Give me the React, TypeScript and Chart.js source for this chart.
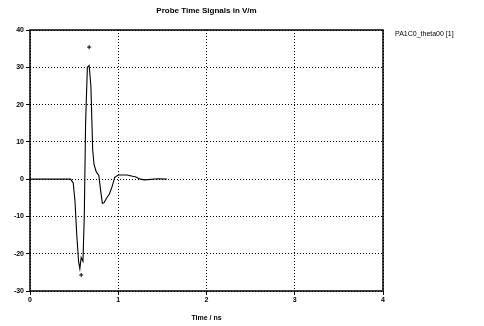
import React, { useEffect, useRef } from "react";
import { Chart, registerables } from "chart.js";

Chart.register(...registerables);

const TITLE = "Probe Time Signals in V/m";
const X_LABEL = "Time / ns";
const SERIES_NAME = "PA1C0_theta00 [1]";

const timeNs = [0, 0.2, 0.46, 0.49, 0.51, 0.53, 0.55, 0.565, 0.58, 0.6, 0.615, 0.63, 0.65, 0.67, 0.69, 0.71, 0.725, 0.75, 0.78, 0.8, 0.82, 0.84, 0.87, 0.9, 0.93, 0.96, 1.0, 1.1, 1.2, 1.25, 1.3, 1.45, 1.55];
const fieldVm = [0, 0, 0, -1, -6, -15, -22, -24, -21, -22, -10, 15, 30, 30.5, 25, 8, 4, 2, 1, -3, -6.5, -6.3, -5, -4, -2, 0.5, 1.1, 1.1, 0.6, 0, -0.2, 0.1, 0];

const markerTimes = [0.58, 0.67];
const markerValues = [-25.7, 35.4];

const xTicks = [0, 1, 2, 3, 4];
const yTicks = [-30, -20, -10, 0, 10, 20, 30, 40];

const FONT = '"Liberation Sans", Arial, sans-serif';

const framePlugin = {
  id: "frameAndLegend",
  afterDraw(chart: any) {
    const { ctx, chartArea } = chart;
    const { left, top, right, bottom } = chartArea;
    ctx.save();
    ctx.strokeStyle = "#000";
    ctx.lineWidth = 1.5;
    ctx.setLineDash([]);
    ctx.strokeRect(left, top, right - left, bottom - top);
    ctx.font = `7px ${FONT}`;
    ctx.fillStyle = "#000";
    ctx.textBaseline = "middle";
    ctx.textAlign = "left";
    ctx.fillText(SERIES_NAME, right + 12, top + 4);
    ctx.restore();
  },
};

export default function App() {
  const ref = useRef<HTMLCanvasElement | null>(null);

  useEffect(() => {
    if (!ref.current) return;
    const chart = new Chart(ref.current, {
      type: "line",
      data: {
        datasets: [
          {
            label: SERIES_NAME,
            data: timeNs.map((t, i) => ({ x: t, y: fieldVm[i] })),
            borderColor: "#000",
            borderWidth: 1.1,
            pointRadius: 0,
            tension: 0,
            fill: false,
          },
          {
            label: "markers",
            data: markerTimes.map((t, i) => ({ x: t, y: markerValues[i] })),
            showLine: false,
            borderColor: "#000",
            backgroundColor: "#000",
            pointStyle: "cross",
            pointRadius: 2,
            pointBorderWidth: 1,
          },
        ],
      },
      options: {
        responsive: false,
        animation: false,
        layout: { padding: { left: 0, right: 101, top: 0, bottom: 0 } },
        plugins: {
          legend: { display: false },
          tooltip: { enabled: false },
          title: {
            display: true,
            text: TITLE,
            fullSize: false,
            color: "#000",
            font: { family: FONT, size: 8, weight: "bold", lineHeight: 1.2 },
            padding: { top: 6, bottom: 14.4 },
          },
        },
        scales: {
          x: {
            type: "linear",
            min: 0,
            max: 4,
            afterBuildTicks: (scale: any) => {
              scale.ticks = xTicks.map((v) => ({ value: v }));
            },
            afterFit: (scale: any) => {
              scale.height = 35;
            },
            ticks: {
              color: "#000",
              padding: 1,
              font: { family: FONT, size: 7, weight: "bold" },
            },
            grid: {
              color: "#000",
              lineWidth: 1,
              tickLength: 4,
              tickBorderDash: [],
              tickColor: "#000",
            },
            border: { display: false, dash: [1, 2] },
            title: {
              display: true,
              text: X_LABEL,
              color: "#000",
              font: { family: FONT, size: 7, weight: "bold", lineHeight: 1.2 },
              padding: { top: 4, bottom: 4 },
            },
          },
          y: {
            type: "linear",
            min: -30,
            max: 40,
            afterBuildTicks: (scale: any) => {
              scale.ticks = yTicks.map((v) => ({ value: v }));
            },
            afterFit: (scale: any) => {
              scale.width = 30;
            },
            ticks: {
              color: "#000",
              padding: 2,
              font: { family: FONT, size: 7, weight: "bold" },
            },
            grid: {
              color: "#000",
              lineWidth: 1,
              tickLength: 4,
              tickBorderDash: [],
              tickColor: "#000",
            },
            border: { display: false, dash: [1, 2] },
          },
        },
      },
      plugins: [framePlugin],
    });
    return () => chart.destroy();
  }, []);

  return (
    <div style={{ position: "absolute", left: 0, top: 0, width: 484, height: 326, background: "#fff" }}>
      <canvas ref={ref} width={484} height={326} />
    </div>
  );
}
